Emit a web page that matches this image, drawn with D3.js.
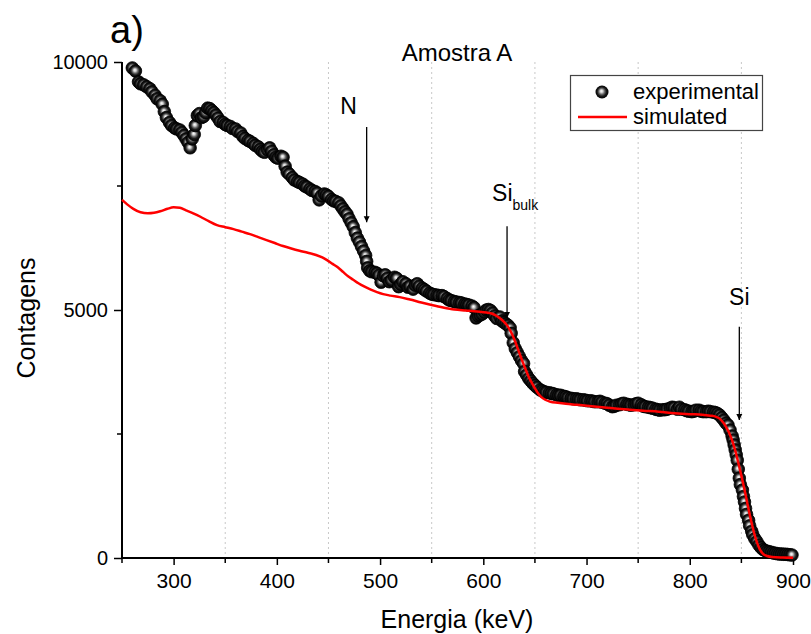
<!DOCTYPE html>
<html>
<head>
<meta charset="utf-8">
<script src="https://cdn.jsdelivr.net/npm/d3@7"></script>
<style>
  body { margin: 0; background: #fff; }
  text { font-family: "Liberation Sans", Arial, sans-serif; fill: #000; }
</style>
</head>
<body>
<svg width="811" height="634"></svg>
<script>
// experimental spectrum (keV, counts)
var expEnergy = [260,263,266,268,271,274,277,279,282,284,287,289,291,293,296,298,301,303,306,308,310,312,314,316,318,320,321,323,325,327,329,331,333,335,337,339,341,343,345,348,350,352,355,357,360,362,365,367,369,372,374,377,379,382,384,386,388,391,393,395,397,399,401,404,406,408,410,412,415,417,420,422,425,427,429,432,434,437,439,441,443,446,448,450,453,455,457,460,462,464,466,468,470,472,474,476,478,480,482,484,486,487,488,490,492,495,497,499,501,503,505,507,509,511,514,516,518,520,522,525,527,529,532,534,536,538,541,543,545,548,550,552,555,557,560,562,565,567,569,572,574,577,579,582,584,586,589,591,593,595,597,599,601,603,605,607,609,611,613,616,618,620,622,624,626,627,629,631,633,635,637,639,640,642,644,646,648,650,652,655,657,659,661,664,666,668,671,673,675,678,680,682,685,687,690,692,694,697,699,701,704,706,708,711,713,715,718,720,722,725,727,729,732,734,736,739,741,743,746,748,750,753,755,757,760,762,764,767,769,771,774,776,778,781,783,785,788,790,792,795,797,799,802,804,806,809,811,813,816,818,820,823,825,827,829,831,833,835,837,839,841,842,843,844,845,846,847,848,849,851,852,853,854,855,857,858,860,861,863,865,867,869,871,873,875,877,879,881,883,885,887,889,891,893,895,897,899];
var expCounts = [9880,9820,9600,9560,9540,9500,9460,9400,9330,9260,9220,9150,9000,8880,8780,8720,8670,8650,8630,8580,8520,8450,8380,8270,8450,8540,8720,8920,8960,8880,8900,8980,9070,9060,9020,8980,8930,8870,8800,8780,8740,8720,8700,8660,8650,8600,8570,8500,8460,8420,8400,8360,8320,8290,8240,8200,8180,8230,8270,8200,8130,8080,8060,8100,8080,7900,7780,7740,7670,7620,7590,7570,7540,7500,7480,7440,7410,7390,7360,7220,7300,7340,7320,7290,7230,7200,7190,7160,7100,7040,6980,6930,6840,6760,6680,6560,6450,6370,6280,6190,6100,5980,5850,5790,5770,5760,5740,5700,5560,5690,5710,5640,5570,5600,5660,5640,5470,5520,5570,5530,5460,5480,5420,5500,5530,5480,5440,5410,5380,5340,5320,5310,5300,5290,5290,5270,5230,5200,5190,5170,5160,5150,5140,5120,5110,5100,5080,5050,4840,4880,4900,4920,4960,5000,5010,4990,4940,4880,4830,4860,4780,4750,4720,4690,4640,4530,4340,4220,4140,4060,3980,3920,3760,3690,3620,3570,3520,3480,3440,3390,3370,3350,3340,3330,3320,3310,3290,3280,3280,3260,3250,3230,3220,3210,3210,3200,3190,3190,3180,3170,3170,3160,3150,3150,3160,3140,3120,3110,3080,3050,3060,3080,3090,3110,3120,3100,3090,3080,3090,3110,3120,3090,3060,3050,3040,3030,3020,3000,2990,2980,2990,2990,3000,3020,3040,3030,3000,3040,3000,2990,2970,2960,2950,2960,2980,2980,2960,2950,2950,2960,2950,2940,2930,2910,2880,2830,2780,2720,2680,2580,2460,2380,2280,2180,2080,1970,1790,1610,1480,1370,1240,1130,1000,880,760,650,540,470,390,330,260,210,170,150,135,125,115,100,95,85,80,80,75,75,70,65,60];

// simulated spectrum
var simEnergy = [250,255,261,268,275,281,287,294,300,306,312,319,326,334,342,350,358,366,374,382,390,398,406,414,422,430,438,444,449,454,459,464,469,474,479,485,491,497,503,510,519,529,540,550,561,572,583,594,603,608,613,617,620,623,626,629,632,635,638,641,644,647,650,653,656,660,665,672,680,690,700,710,720,730,742,755,770,785,800,812,820,825,829,832,835,838,841,844,847,850,853,856,859,862,865,868,871,875,880,890,900];
var simCounts = [7220,7130,7040,6970,6950,6960,6990,7040,7070,7060,7010,6950,6880,6790,6710,6670,6630,6580,6530,6470,6410,6350,6290,6240,6195,6155,6110,6060,6000,5930,5860,5770,5680,5610,5540,5470,5410,5360,5320,5290,5260,5210,5150,5100,5050,5010,4990,4970,4950,4930,4880,4820,4760,4690,4590,4460,4300,4130,3960,3800,3650,3530,3420,3320,3250,3190,3150,3130,3110,3090,3070,3050,3030,3010,2990,2970,2950,2920,2900,2890,2870,2850,2810,2740,2650,2530,2370,2170,1920,1660,1380,1080,790,530,320,170,85,40,20,10,5];

var xMajor = [300,400,500,600,700,800,900];
var xMinor = [250,350,450,550,650,750,850];
var yMajor = [0,5000,10000];
var yMinor = [2500,7500];

// peak labels and arrow extent (keV, counts)
var peakLabels = ["N", "Si", "Si"];
var peakSubs = ["", "bulk", ""];
var peakEnergy = [487, 623, 848];
var peakTop = [8690, 6690, 4660];
var peakTip = [6770, 4840, 2780];
// label placement relative to arrow top (px)
var labelDx = [-18, -15, 0];
var labelDy = [-13, -25, -22];

var svg = d3.select("svg");
var x = d3.scaleLinear().domain([250, 900]).range([122, 793]);
var y = d3.scaleLinear().domain([0, 10000]).range([558, 62]);

var defs = svg.append("defs");
var grad = defs.append("radialGradient").attr("id", "ball")
    .attr("cx", "50%").attr("cy", "50%").attr("r", "50%")
    .attr("fx", "45%").attr("fy", "42%");
grad.append("stop").attr("offset", "0%").attr("stop-color", "#ffffff");
grad.append("stop").attr("offset", "22%").attr("stop-color", "#d0d0d0");
grad.append("stop").attr("offset", "45%").attr("stop-color", "#6a6a6a");
grad.append("stop").attr("offset", "70%").attr("stop-color", "#1a1a1a");
grad.append("stop").attr("offset", "100%").attr("stop-color", "#000");
defs.append("marker").attr("id", "head")
    .attr("viewBox", "0 0 10 10").attr("refX", 10).attr("refY", 5)
    .attr("markerWidth", 6).attr("markerHeight", 13)
    .attr("markerUnits", "userSpaceOnUse").attr("orient", "auto")
  .append("path").attr("d", "M0,0 L10,5 L0,10 Z").attr("fill", "#000");

// grid
svg.append("g").selectAll("line")
    .data(xMinor.slice(1))
    .enter().append("line")
    .attr("x1", function(d) { return x(d); })
    .attr("x2", function(d) { return x(d); })
    .attr("y1", y(10000)).attr("y2", y(0))
    .style("stroke", "#c8c8c8")
    .style("stroke-width", "1px")
    .style("stroke-dasharray", "2,3");

// axes
var xAxis = svg.append("g").attr("transform", "translate(0," + y(0) + ")");
xAxis.call(d3.axisBottom(x).tickValues(xMajor).tickSize(7).tickPadding(8).tickFormat(d3.format("d")));
xAxis.append("g").selectAll("line").data(xMinor).enter().append("line")
    .attr("x1", function(d) { return x(d); }).attr("x2", function(d) { return x(d); })
    .attr("y1", 0).attr("y2", 5).attr("stroke", "#000").attr("stroke-width", 1.5);

var yAxis = svg.append("g").attr("transform", "translate(" + x(250) + ",0)");
yAxis.call(d3.axisLeft(y).tickValues(yMajor).tickSize(8).tickPadding(6).tickFormat(d3.format("d")));
yAxis.append("g").selectAll("line").data(yMinor).enter().append("line")
    .attr("y1", function(d) { return y(d); }).attr("y2", function(d) { return y(d); })
    .attr("x1", 0).attr("x2", -5).attr("stroke", "#000").attr("stroke-width", 1.5);

xAxis.select(".domain").attr("stroke-width", 2).attr("d", "M" + x(250) + ",0H" + x(900));
yAxis.select(".domain").attr("stroke-width", 2).attr("d", "M0," + y(0) + "V" + y(10000));
svg.selectAll(".tick line").attr("stroke-width", 1.5);
svg.selectAll(".tick text").style("font-size", "20px").style("font-family", "Liberation Sans, Arial, sans-serif");
xAxis.selectAll(".tick text").style("font-size", "21px");

// experimental points
svg.append("g").selectAll("circle")
    .data(expEnergy)
    .enter().append("circle")
    .attr("cx", function(d) { return x(d); })
    .attr("cy", function(d, i) { return y(expCounts[i]); })
    .attr("r", 6.3)
    .attr("fill", "url(#ball)")
    .attr("stroke", "#000")
    .attr("stroke-width", 0.8);

// simulated line
var line = d3.line()
    .x(function(d) { return x(d); })
    .y(function(d, i) { return y(simCounts[i]); })
    .curve(d3.curveMonotoneX);
svg.append("path")
    .datum(simEnergy)
    .attr("d", line)
    .attr("fill", "none")
    .style("stroke", "#ff0000")
    .style("stroke-width", "2.5px");

// peak markers
peakEnergy.forEach(function(e, i) {
    svg.append("line")
        .attr("x1", x(e)).attr("x2", x(e))
        .attr("y1", y(peakTop[i])).attr("y2", y(peakTip[i]))
        .attr("stroke", "#000").attr("stroke-width", 1.3)
        .attr("marker-end", "url(#head)");
    var t = svg.append("text")
        .attr("x", x(e) + labelDx[i])
        .attr("y", y(peakTop[i]) + labelDy[i])
        .attr("text-anchor", peakSubs[i] ? "start" : "middle")
        .style("font-size", "23px");
    t.append("tspan").text(peakLabels[i]);
    if (peakSubs[i]) {
        t.append("tspan").attr("dy", 9).style("font-size", "14px").text(peakSubs[i]);
    }
});

// titles
svg.append("text").attr("x", 457).attr("y", 61).attr("text-anchor", "middle")
    .style("font-size", "24px").text("Amostra A");
svg.append("text").attr("x", 110).attr("y", 43)
    .style("font-size", "38px").text("a)");
svg.append("text").attr("x", 457).attr("y", 628).attr("text-anchor", "middle")
    .style("font-size", "25px").text("Energia (keV)");
svg.append("text").attr("transform", "translate(35,318) rotate(-90)")
    .attr("text-anchor", "middle")
    .style("font-size", "25px").text("Contagens");

// legend
var lg = svg.append("g");
lg.append("rect").attr("x", 570.5).attr("y", 75.5).attr("width", 192).attr("height", 55)
    .attr("fill", "#fff").attr("stroke", "#444").attr("stroke-width", 1.2);
lg.append("circle").attr("cx", 602).attr("cy", 92).attr("r", 6.5).attr("fill", "url(#ball)");
lg.append("line").attr("x1", 578).attr("x2", 627).attr("y1", 117).attr("y2", 117)
    .attr("stroke", "#ff0000").attr("stroke-width", 2.5);
lg.append("text").attr("x", 633).attr("y", 99).style("font-size", "22px").text("experimental");
lg.append("text").attr("x", 633).attr("y", 124).style("font-size", "22px").text("simulated");
</script>
</body>
</html>
